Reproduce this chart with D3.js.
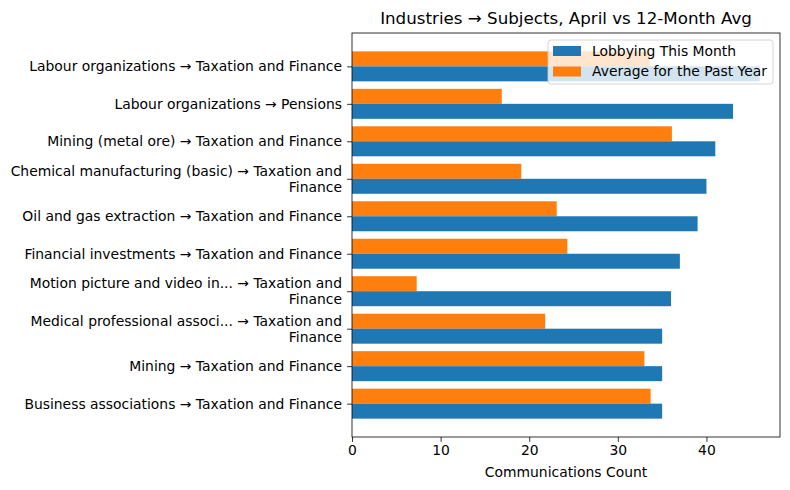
<!DOCTYPE html>
<html>
  <head>
    <meta charset="UTF-8" />
    <style>
      body { margin: 0; background: #fff; }
      svg { font-family: "DejaVu Sans", sans-serif; }
    </style>
  </head>
  <body>
    <svg></svg>
    <script src="https://d3js.org/d3.v7.min.js"></script>
    <script>
      let width = 790,
        height = 490;

      // data
      var categories = [
        "Labour organizations → Taxation and Finance",
        "Labour organizations → Pensions",
        "Mining (metal ore) → Taxation and Finance",
        "Chemical manufacturing (basic) → Taxation and\nFinance",
        "Oil and gas extraction → Taxation and Finance",
        "Financial investments → Taxation and Finance",
        "Motion picture and video in... → Taxation and\nFinance",
        "Medical professional associ... → Taxation and\nFinance",
        "Mining → Taxation and Finance",
        "Business associations → Taxation and Finance",
      ];
      var thisMonth = [46, 43, 41, 40, 39, 37, 36, 35, 35, 35];
      var pastYearAvg = [33.6, 16.9, 36.1, 19.1, 23.1, 24.3, 7.3, 21.8, 33.0, 33.7];
      var xTicks = [0, 10, 20, 30, 40];
      var seriesNames = ["Lobbying This Month", "Average for the Past Year"];
      var colors = ["#1f77b4", "#ff7f0e"];

      var margin = { left: 352, right: 10, top: 33, bottom: 53 };
      var fs = 13.9;

      let svg = d3.select("svg").attr("width", width).attr("height", height);

      var xMax = d3.max(thisMonth.concat(pastYearAvg)) * 1.05;
      var x = d3.scaleLinear().domain([0, xMax]).range([margin.left, width - margin.right]);

      // category index -> y, with matplotlib style margins, first category on top
      var n = categories.length;
      var lo = -0.4, hi = n - 1 + 0.4, pad = (hi - lo) * 0.05;
      var y = d3.scaleLinear().domain([lo - pad, hi + pad]).range([margin.top, height - margin.bottom]);
      var bh = y(0.4) - y(0);

      var g = svg.append("g");

      // orange (average) above, blue (this month) below
      g.selectAll(".avg")
        .data(pastYearAvg)
        .enter()
        .append("rect")
        .attr("x", x(0))
        .attr("y", (d, i) => y(i - 0.4))
        .attr("width", (d) => x(d) - x(0))
        .attr("height", bh)
        .attr("fill", colors[1]);

      g.selectAll(".cur")
        .data(thisMonth)
        .enter()
        .append("rect")
        .attr("x", x(0))
        .attr("y", (d, i) => y(i))
        .attr("width", (d) => x(d) - x(0))
        .attr("height", bh)
        .attr("fill", colors[0]);

      // frame
      svg.append("rect")
        .attr("x", margin.left)
        .attr("y", margin.top)
        .attr("width", width - margin.right - margin.left)
        .attr("height", height - margin.bottom - margin.top)
        .attr("fill", "none")
        .attr("stroke", "#000")
        .attr("stroke-width", 0.8);

      // x axis
      var xAxis = svg.append("g")
        .attr("transform", "translate(0," + (height - margin.bottom) + ")")
        .call(d3.axisBottom(x).tickValues(xTicks).tickSize(4.9).tickPadding(3).tickFormat(d3.format("d")));
      xAxis.select(".domain").remove();
      xAxis.selectAll("line").attr("stroke-width", 0.8);
      xAxis.selectAll("text").attr("font-size", fs).attr("font-family", "DejaVu Sans").attr("fill", "#000");

      // y axis
      var yAxis = svg.append("g")
        .attr("transform", "translate(" + margin.left + ",0)")
        .call(d3.axisLeft(y).tickValues(d3.range(n)).tickSize(4.9).tickPadding(4.9).tickFormat(""));
      yAxis.select(".domain").remove();
      yAxis.selectAll("line").attr("stroke-width", 0.8);

      var lh = 16;
      categories.forEach(function (c, i) {
        var lines = c.split("\n");
        var t = svg.append("text")
          .attr("text-anchor", "end")
          .attr("font-size", fs)
          .attr("fill", "#000");
        lines.forEach(function (l, k) {
          t.append("tspan")
            .attr("x", margin.left - 10)
            .attr("y", y(i) + (k - (lines.length - 1) / 2) * lh)
            .attr("dy", "0.35em")
            .text(l);
        });
      });

      // labels
      svg.append("text")
        .attr("x", (margin.left + width - margin.right) / 2)
        .attr("y", 477)
        .attr("text-anchor", "middle")
        .attr("font-size", fs)
        .text("Communications Count");

      svg.append("text")
        .attr("x", (margin.left + width - margin.right) / 2)
        .attr("y", 24)
        .attr("text-anchor", "middle")
        .attr("font-size", 16.7)
        .text("Industries → Subjects, April vs 12-Month Avg");

      // legend
      var lg = svg.append("g").attr("transform", "translate(548,40)");
      lg.append("rect")
        .attr("width", 225)
        .attr("height", 44)
        .attr("rx", 3)
        .attr("fill", "rgba(255,255,255,0.8)")
        .attr("stroke", "#ccc")
        .attr("stroke-width", 0.8);
      seriesNames.forEach(function (s, i) {
        lg.append("rect")
          .attr("x", 5)
          .attr("y", 6 + i * 20.5)
          .attr("width", 28)
          .attr("height", 10)
          .attr("fill", colors[i]);
        lg.append("text")
          .attr("x", 44)
          .attr("y", 11 + i * 20.5)
          .attr("dy", "0.35em")
          .attr("font-size", fs)
          .text(s);
      });
    </script>
  </body>
</html>
